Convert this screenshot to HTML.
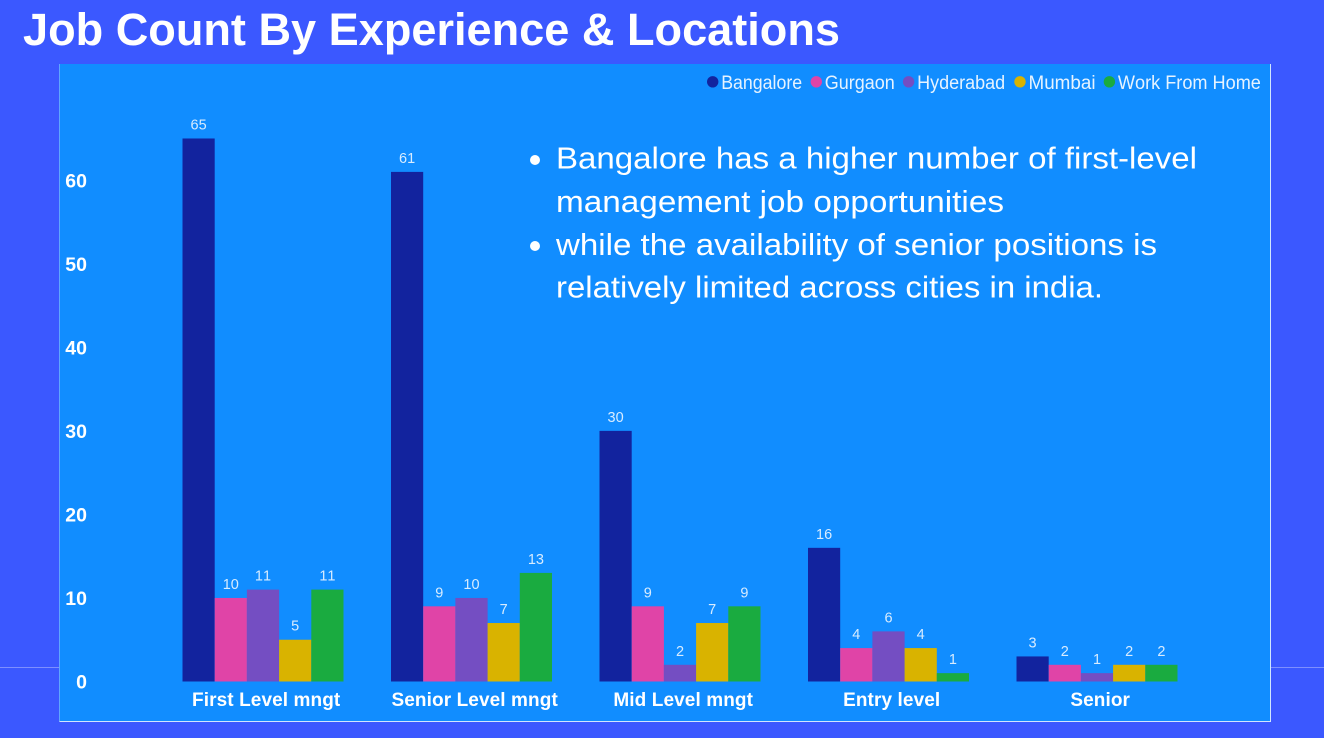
<!DOCTYPE html>
<html lang="en">
<head>
<meta charset="utf-8">
<title>Job Count By Experience &amp; Locations</title>
<style>
html,body{margin:0;padding:0;width:1324px;height:738px;overflow:hidden;background:#3b58ff}
svg{display:block}
text{font-family:"Liberation Sans",sans-serif;font-kerning:none}
</style>
</head>
<body>
<svg id="chart" width="1324" height="738" viewBox="0 0 1324 738" xmlns="http://www.w3.org/2000/svg">
  <rect x="0" y="0" width="1324" height="738" fill="#3b58ff"/>
  <line x1="0" y1="667.5" x2="1324" y2="667.5" stroke="#7d8fff" stroke-width="1"/>
  <text x="23" y="45" font-size="45" font-weight="700" fill="#ffffff" textLength="817" lengthAdjust="spacingAndGlyphs">Job Count By Experience &amp; Locations</text>
  <rect x="59.5" y="64" width="1211" height="657.5" fill="#118dff"/>
  <line x1="59.5" y1="64" x2="59.5" y2="721.5" stroke="#5fa6ff" stroke-width="1"/>
  <path d="M59.5 721.5H1270.5V64" fill="none" stroke="#d0e6ff" stroke-width="1"/>
  <g id="legend"></g>
  <g id="y-axis"></g>
  <g id="bars"></g>
  <g id="x-axis"></g>
  <g fill="#ffffff" font-size="31">
    <circle cx="535" cy="160" r="5"/>
    <text x="556" y="168.5" textLength="641" lengthAdjust="spacingAndGlyphs">Bangalore has a higher number of first-level</text>
    <text x="556" y="212" textLength="448" lengthAdjust="spacingAndGlyphs">management job opportunities</text>
    <circle cx="535" cy="246" r="5"/>
    <text x="556" y="255" textLength="601" lengthAdjust="spacingAndGlyphs">while the availability of senior positions is</text>
    <text x="556" y="297.5" textLength="547" lengthAdjust="spacingAndGlyphs">relatively limited across cities in india.</text>
  </g>
</svg>
<script>
const categories = ["First Level mngt", "Senior Level mngt", "Mid Level mngt", "Entry level", "Senior"];
const seriesNames = ["Bangalore", "Gurgaon", "Hyderabad", "Mumbai", "Work From Home"];
const seriesColors = ["#12239e", "#e044a7", "#744ec2", "#d9b300", "#1aab40"];
const bangalore = [65, 61, 30, 16, 3];
const gurgaon = [10, 9, 9, 4, 2];
const hyderabad = [11, 10, 2, 6, 1];
const mumbai = [5, 7, 7, 4, 2];
const workFromHome = [11, 13, 9, 1, 2];
const yTicks = [0, 10, 20, 30, 40, 50, 60];

const NS = "http://www.w3.org/2000/svg";
const allSeries = [bangalore, gurgaon, hyderabad, mumbai, workFromHome];
const yScale = v => 681.5 - v * 8.354;
const groupX = i => 182.5 + i * 208.5;
const barWidth = 32.2;
const barX = (g, s) => groupX(g) + s * barWidth;

function make(parent, tag, attrs, txt) {
  const el = document.createElementNS(NS, tag);
  for (const k in attrs) el.setAttribute(k, attrs[k]);
  if (txt !== undefined) el.textContent = txt;
  parent.appendChild(el);
  return el;
}

const yG = document.getElementById("y-axis");
yTicks.forEach(t => {
  const el = make(yG, "text", {x: 87, y: yScale(t) + 7, "text-anchor": "end", "font-size": 19.5, "font-weight": 700, fill: "#ffffff"}, t);
  
  
});

const barsG = document.getElementById("bars");
allSeries.forEach((values, s) => {
  values.forEach((v, g) => {
    const r = make(barsG, "rect", {x: barX(g, s), y: yScale(v), width: barWidth, height: yScale(0) - yScale(v), fill: seriesColors[s]});
    
    
    const lab = make(barsG, "text", {x: barX(g, s) + barWidth / 2, y: yScale(v) - 9, "text-anchor": "middle", "font-size": 14.5, fill: "#d8ecff"}, v);
    
    
  });
});

const xG = document.getElementById("x-axis");
categories.forEach((c, i) => {
  const el = make(xG, "text", {x: groupX(i) + 83.7, y: 706, "text-anchor": "middle", "font-size": 19, "font-weight": 700, "letter-spacing": 0.1, fill: "#ffffff"}, c);
  
  
});

const legendDotX = [712.7, 816.3, 908.6, 1020, 1109.4];
const legendTextWidth = [81, 70, 88, 67, 143];
const legendG = document.getElementById("legend");
seriesNames.forEach((n, i) => {
  const entry = make(legendG, "g", {});
  
  
  const dot = make(entry, "circle", {cx: legendDotX[i], cy: 81.8, r: 5.7, fill: seriesColors[i]});
  
  
  const t = make(entry, "text", {x: legendDotX[i] + 8.5, y: 89, "font-size": 19, fill: "#e6f3ff", textLength: legendTextWidth[i], lengthAdjust: "spacingAndGlyphs"}, n);
  
  
});
</script>
</body>
</html>
